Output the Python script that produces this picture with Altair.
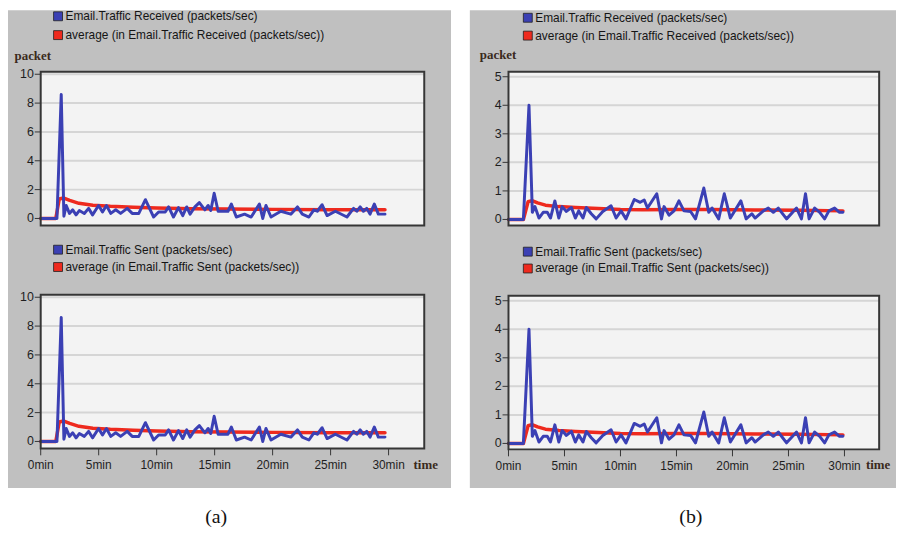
import altair as alt
import pandas as pd

# ---------------- data ----------------
# panel (a): Email traffic (packets/sec) over time (min)
a_blue_t = [0.0, 1.4, 1.77, 2.0, 2.2, 2.48, 2.76, 3.05, 3.33, 3.76, 4.13, 4.47, 4.99, 5.33, 5.67,
            6.04, 6.47, 6.89, 7.46, 7.89, 8.46, 9.03, 9.74, 10.17, 10.74, 11.03, 11.45, 11.88, 12.25,
            12.59, 12.88, 13.30, 13.68, 14.16, 14.44, 14.67, 14.96, 15.30, 16.15, 16.44, 16.87, 17.58,
            18.15, 18.86, 19.15, 19.43, 19.86, 20.71, 21.57, 22.14, 22.56, 23.13, 23.56, 23.85, 24.27,
            24.70, 25.41, 26.41, 26.98, 27.26, 27.55, 27.83, 28.12, 28.40, 28.77, 29.12, 29.69]
a_blue_v = [0, 0, 8.6, 0.15, 0.9, 0.35, 0.6, 0.25, 0.55, 0.35, 0.7, 0.25, 0.9, 0.45, 0.9,
            0.35, 0.6, 0.35, 0.7, 0.35, 0.35, 1.3, 0.1, 0.45, 0.45, 0.8, 0.1, 0.75, 0.2,
            0.8, 0.3, 0.8, 1.1, 0.6, 0.9, 0.55, 1.75, 0.5, 0.5, 1.0, 0.1, 0.3,
            0.1, 1.0, 0.0, 0.9, 0.1, 0.5, 0.3, 0.8, 0.3, 0.1, 0.6, 0.5, 0.95,
            0.2, 0.5, 0.1, 0.7, 0.5, 0.8, 0.5, 0.7, 0.3, 1.0, 0.3, 0.3]
a_avg_t = [0.0, 1.3, 1.6, 1.95, 2.5, 3.3, 4.5, 6.0, 8.0, 10.0, 13.0, 16.0, 20.0, 25.0, 29.69]
a_avg_v = [0.0, 0.0, 1.35, 1.42, 1.25, 1.05, 0.92, 0.84, 0.77, 0.72, 0.68, 0.66, 0.63, 0.6, 0.6]

# panel (b)
b_blue_t = [0.0, 1.33, 1.83, 2.13, 2.36, 2.72, 3.10, 3.46, 3.75, 4.14, 4.49, 4.79, 5.17, 5.62, 5.97,
            6.27, 6.65, 6.95, 7.39, 7.83, 8.42, 9.16, 9.61, 10.05, 10.49, 11.23, 11.76, 12.12, 12.41,
            13.24, 13.66, 13.89, 14.34, 14.78, 15.22, 15.67, 16.26, 16.70, 17.44, 17.88, 18.18, 18.77,
            19.27, 19.81, 20.75, 21.22, 21.73, 22.02, 22.76, 23.20, 23.65, 24.09, 24.83, 25.72, 26.16,
            26.52, 26.84, 27.34, 27.79, 28.23, 28.61, 29.12, 29.56, 29.86]
b_blue_v = [0, 0, 4.0, 0.25, 0.45, 0.05, 0.25, 0.25, 0.05, 0.65, 0.05, 0.45, 0.28, 0.42, 0.05,
            0.3, 0.05, 0.42, 0.2, 0.02, 0.28, 0.48, 0.05, 0.3, 0.02, 0.7, 0.6, 0.68, 0.4,
            0.9, 0.02, 0.45, 0.15, 0.3, 0.65, 0.3, 0.28, 0.02, 1.1, 0.25, 0.4, 0.02,
            0.9, 0.05, 0.65, 0.02, 0.2, 0.05, 0.3, 0.4, 0.25, 0.4, 0.02, 0.4, 0.02,
            0.9, 0.02, 0.4, 0.25, 0.02, 0.3, 0.4, 0.25, 0.25]
b_avg_t = [0.0, 1.33, 1.75, 2.1, 2.6, 3.3, 4.5, 6.0, 8.0, 10.0, 12.0, 15.0, 18.0, 22.0, 26.0, 29.86]
b_avg_v = [0.0, 0.0, 0.62, 0.66, 0.58, 0.5, 0.45, 0.42, 0.38, 0.35, 0.34, 0.35, 0.35, 0.33, 0.32, 0.3]

x_ticks = [0, 5, 10, 15, 20, 25, 30]
x_tick_labels = ["0min", "5min", "10min", "15min", "20min", "25min", "30min"]
a_y_ticks = [0, 2, 4, 6, 8, 10]
b_y_ticks = [0, 1, 2, 3, 4, 5]

recv_names = ["Email.Traffic Received (packets/sec)", "average (in Email.Traffic Received (packets/sec))"]
sent_names = ["Email.Traffic Sent (packets/sec)", "average (in Email.Traffic Sent (packets/sec))"]

# ---------------- style ----------------
PANEL_BG = "#c0c0c0"
PLOT_BG = "#f3f3f3"
GRID = "#d5d5d5"
FRAME = "#363636"
BLUE = "#3b40b4"
RED = "#ee2a1e"
SANS = "Liberation Sans, Arial"
SERIF = "Liberation Serif, DejaVu Serif"
ONE = pd.DataFrame({"k": [0]})


def label(txt, x, y, **kw):
    return alt.Chart(ONE).mark_text(text=txt, **kw).encode(x=alt.value(x), y=alt.value(y))


def box(x0, x1, y0, y1, **kw):
    return alt.Chart(ONE).mark_rect(**kw).encode(
        x=alt.value(x0), x2=alt.value(x1), y=alt.value(y0), y2=alt.value(y1))


def subpanel(bt, bv, at, av, xr, yd, yr, fx0, fx1, fy0, fy1, yt, show_x,
             leg_x, leg_y, names, ylabel=None, xlabel=None):
    xs = alt.Scale(domain=[0, 30], range=xr, nice=False, zero=False)
    ys = alt.Scale(domain=yd, range=yr, nice=False, zero=False)
    X = alt.X("t:Q", scale=xs, axis=None)
    Y = alt.Y("v:Q", scale=ys, axis=None)
    blue_df = pd.DataFrame({"t": bt, "v": bv})
    avg_df = pd.DataFrame({"t": at, "v": av})
    yt_df = pd.DataFrame({"v": yt, "lab": [str(v) for v in yt]})
    grid_df = pd.DataFrame({"v": yt[1:]})

    layers = [
        box(fx0, fx1, fy0, fy1, fill=PLOT_BG),
        alt.Chart(grid_df).mark_rule(color=GRID, strokeWidth=2).encode(
            y=Y, x=alt.value(fx0), x2=alt.value(fx1)),
        alt.Chart(avg_df).mark_line(color=RED, strokeWidth=3.5, strokeJoin="round",
                                    strokeCap="round").encode(x=X, y=Y),
        alt.Chart(blue_df).mark_line(color=BLUE, strokeWidth=3, strokeJoin="round",
                                     strokeCap="round").encode(x=X, y=Y),
        box(fx0, fx1, fy0, fy1, fillOpacity=0, stroke=FRAME, strokeWidth=2),
        alt.Chart(yt_df).mark_rule(color=FRAME, strokeWidth=1).encode(
            y=Y, x=alt.value(fx0 - 6), x2=alt.value(fx0)),
        alt.Chart(yt_df).mark_text(align="right", baseline="middle", font=SANS,
                                   fontSize=12.5, color="#1e1e1e").encode(
            y=Y, x=alt.value(fx0 - 7), text="lab:N"),
    ]
    if show_x:
        xt_df = pd.DataFrame({"t": x_ticks, "lab": x_tick_labels})
        layers += [
            alt.Chart(xt_df).mark_rule(color=FRAME, strokeWidth=1).encode(
                x=X, y=alt.value(fy1), y2=alt.value(fy1 + 7)),
            alt.Chart(xt_df).mark_text(align="center", baseline="middle", font=SANS,
                                       fontSize=12, color="#1e1e1e").encode(
                x=X, y=alt.value(fy1 + 17), text="lab:N"),
        ]
    # legend
    for i, (nm, col) in enumerate(zip(names, [BLUE, RED])):
        yc = leg_y[i]
        layers += [
            box(leg_x, leg_x + 9, yc - 4.5, yc + 4.5, fill=col, stroke="#202020", strokeWidth=0.8),
            label(nm, leg_x + 12, yc, align="left", baseline="middle", font=SANS,
                  fontSize=12, color="#151515"),
        ]
    if ylabel:
        layers.append(label(ylabel[0], ylabel[1], ylabel[2], align="center", baseline="middle",
                            font=SERIF, fontSize=13, fontWeight="bold", color="#3a2a1c"))
    if xlabel:
        layers.append(label(xlabel[0], xlabel[1], xlabel[2], align="center", baseline="middle",
                            font=SERIF, fontSize=13, fontWeight="bold", color="#3a2a1c"))
    return alt.layer(*layers)


background = alt.layer(
    box(0, 447, 0, 482, fill=PANEL_BG),
    box(466, 896, 0, 482, fill=PANEL_BG),
)

a_top = subpanel(a_blue_t, a_blue_v, a_avg_t, a_avg_v, [33, 384], [0, 10], [210, 64.5],
                 33, 420, 62, 217, a_y_ticks, False, 46, [6, 25], recv_names,
                 ylabel=("packet", 25, 46))
a_bot = subpanel(a_blue_t, a_blue_v, a_avg_t, a_avg_v, [33, 384], [0, 10], [435, 289.5],
                 33, 420, 287, 442, a_y_ticks, True, 46, [241.5, 259], sent_names,
                 xlabel=("time", 421.5, 459))
b_top = subpanel(b_blue_t, b_blue_v, b_avg_t, b_avg_v, [505, 844], [0, 5], [211, 67],
                 505, 879, 62, 217, b_y_ticks, False, 520, [7.5, 25.5], recv_names,
                 ylabel=("packet", 494.5, 45))
b_bot = subpanel(b_blue_t, b_blue_v, b_avg_t, b_avg_v, [505, 844], [0, 5], [437, 293],
                 505, 879, 288, 443, b_y_ticks, True, 520, [243.5, 260.5], sent_names,
                 xlabel=("time", 878, 459))

captions = alt.layer(
    label("(a)", 210, 511, align="center", baseline="middle", font=SERIF, fontSize=20, color="#111"),
    label("(b)", 689, 511, align="center", baseline="middle", font=SERIF, fontSize=20, color="#111"),
)

chart = alt.layer(background, a_top, a_bot, b_top, b_bot, captions).resolve_scale(
    x="independent", y="independent"
).properties(
    width=896, height=523, padding=0, autosize=alt.AutoSizeParams(type="none"),
    background="white"
).configure_view(stroke=None)

chart.save("out.html", embed_options={"renderer": "svg", "actions": False})
